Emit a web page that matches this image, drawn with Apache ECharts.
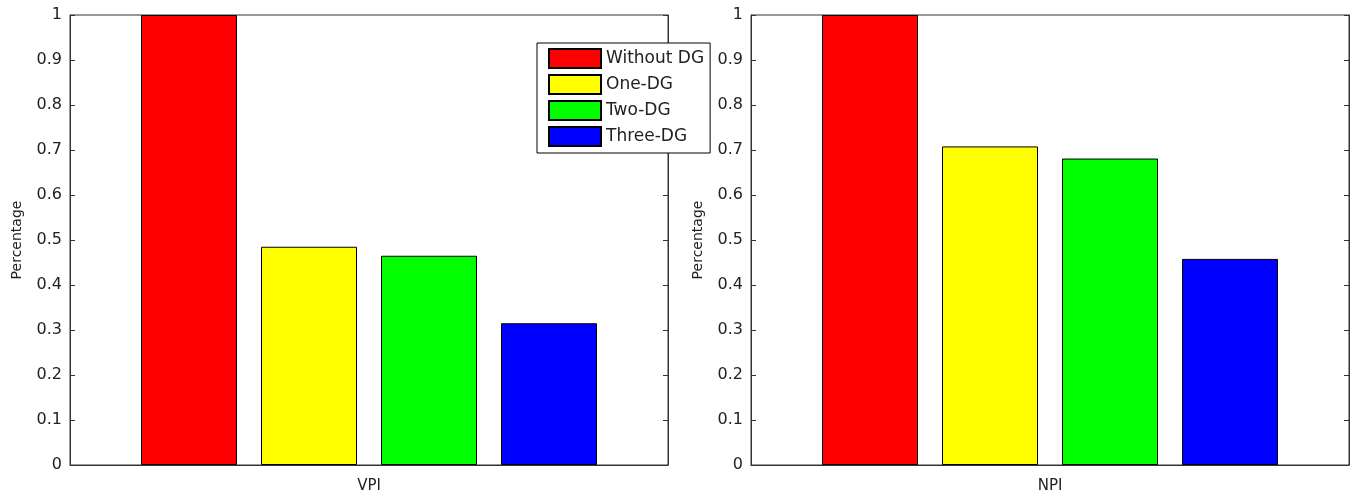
<!DOCTYPE html>
<html>
<head>
<meta charset="utf-8">
<script src="https://cdn.jsdelivr.net/npm/echarts@6/dist/echarts.min.js"></script>
<style>
  html, body { margin: 0; padding: 0; background: #fff; }
  #chart { width: 1357px; height: 501px; }
</style>
</head>
<body>
<div id="chart"></div>
<script>
let $ = a => document.querySelector(a)

// data
const seriesNames = ['Without DG', 'One-DG', 'Two-DG', 'Three-DG']
const seriesColors = ['#ff0000', '#ffff00', '#00ff00', '#0000ff']
const vpiValues = [1, 0.485, 0.465, 0.315]
const npiValues = [1, 0.708, 0.681, 0.458]
const leftCategory = ['VPI']
const rightCategory = ['NPI']
const yTicks = [0, 0.1, 0.2, 0.3, 0.4, 0.5, 0.6, 0.7, 0.8, 0.9, 1]

const font = 'DejaVu Sans'
const textColor = '#222'

let grids = [
    { left: 70, right: 689, top: 15, bottom: 36 },
    { left: 751, right: 8, top: 15, bottom: 36 }
]

let xAxes = [leftCategory, rightCategory].map((cats, i) => ({
    type: 'category',
    gridIndex: i,
    data: cats,
    axisLine: { lineStyle: { color: '#333', width: 1 } },
    axisTick: { show: false },
    axisLabel: { color: textColor, fontFamily: font, fontSize: 15, margin: 14 }
}))

let yAxes = []
for (let i = 0; i < 2; i++) {
    // left axis with labels
    yAxes.push({
        type: 'value',
        gridIndex: i,
        min: yTicks[0],
        max: yTicks[yTicks.length - 1],
        interval: 0.1,
        name: 'Percentage',
        nameLocation: 'middle',
        nameGap: 46,
        nameTextStyle: { color: textColor, fontFamily: font, fontSize: 14 },
        splitLine: { show: false },
        axisLine: { show: true, lineStyle: { color: '#333' } },
        axisTick: { show: true, inside: true, length: 5, lineStyle: { color: '#333' } },
        axisLabel: {
            color: textColor, fontFamily: font, fontSize: 16, margin: 8,
            formatter: v => String(Math.round(v * 10) / 10)
        }
    })
    // right axis: ticks only, closes the box
    yAxes.push({
        type: 'value',
        gridIndex: i,
        position: 'right',
        min: yTicks[0],
        max: yTicks[yTicks.length - 1],
        interval: 0.1,
        splitLine: { show: false },
        axisLine: { show: true, lineStyle: { color: '#333' } },
        axisTick: { show: true, inside: true, length: 5, lineStyle: { color: '#333' } },
        axisLabel: { show: false }
    })
}

let series = []
;[vpiValues, npiValues].forEach((vals, g) => {
    seriesNames.forEach((name, k) => {
        series.push({
            name: name,
            type: 'bar',
            xAxisIndex: g,
            yAxisIndex: g * 2,
            barWidth: 96,
            barGap: '25%',
            itemStyle: { color: seriesColors[k], borderColor: '#000', borderWidth: 1 },
            emphasis: { disabled: true },
            data: [vals[k]]
        })
    })
})

echarts.init($('#chart')).setOption({
    animation: false,
    backgroundColor: '#fff',
    grid: grids.map(g => Object.assign({ show: true, borderColor: '#333', borderWidth: 1 }, g)),
    xAxis: xAxes,
    yAxis: yAxes,
    legend: {
        data: seriesNames.map(n => ({ name: n, icon: 'rect' })),
        orient: 'vertical',
        left: 537,
        top: 43,
        itemWidth: 52,
        itemHeight: 19,
        itemGap: 5,
        padding: [5, 6, 6, 11],
        backgroundColor: '#fff',
        borderColor: '#000',
        borderWidth: 1,
        borderRadius: 0,
        selectedMode: false,
        textStyle: { color: textColor, fontFamily: font, fontSize: 17, lineHeight: 19 }
    },
    series: series
})
</script>
</body>
</html>
